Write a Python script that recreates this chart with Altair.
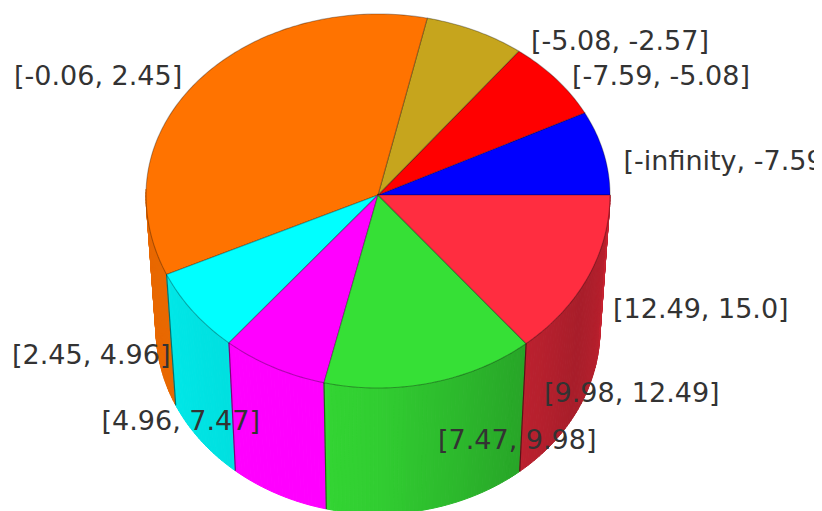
import altair as alt
import numpy as np
import pandas as pd

# ---- values ----
slice_counts = [1, 1, 1, 5, 1, 1, 2, 2]
slice_colors = ["#0000ff", "#ff0000", "#c6a51d", "#ff7300", "#00ffff", "#ff00ff", "#36e036", "#ff2d40"]
label_texts = ["[-infinity, -7.59]", "[-7.59, -5.08]", "[-5.08, -2.57]", "[-0.06, 2.45]",
               "[2.45, 4.96]", "[4.96, 7.47]", "[7.47, 9.98]", "[9.98, 12.49]", "[12.49, 15.0]"]

# ---- layout of the drawing (page pixels) ----
label_x = [623.5, 572, 531, 14, 12, 101.5, 438, 544, 613]
label_y = [161.5, 76.5, 41.5, 76.5, 355.5, 421.5, 440.5, 393.5, 309.5]
OFF = 8
TOP = dict(cx=378, cy=195, rx=232, ry_up=181, ry_down=193)
BOT = dict(cx=378, cy=329, rx=222, ry=185)
shade_a = [180, 205, 231, 232, 257, 258, 270, 308, 330, 350, 360]
shade_v = [0.91, 0.91, 0.88, 1.0, 1.0, 0.95, 0.92, 0.74, 0.66, 0.72, 0.78]
# perspective skew of the slice borders, in degrees
skew_a = [0, 25.7, 51.4, 77.1, 205.7, 231.4, 257.1, 308.6, 360]
skew_v = [0, 1.3, 1.2, 0.6, -1.4, -1.4, -0.6, 1.1, 0]


def warp(a):
    return a + float(np.interp(a, skew_a, skew_v))


def top(a):
    r = np.radians(warp(a))
    s = np.sin(r)
    return [TOP["cx"] + TOP["rx"] * np.cos(r) - OFF,
            TOP["cy"] - (TOP["ry_up"] if s > 0 else TOP["ry_down"]) * s - OFF]


def bot(a):
    r = np.radians(warp(a))
    return [BOT["cx"] + BOT["rx"] * np.cos(r) - OFF,
            BOT["cy"] - BOT["ry"] * np.sin(r) - OFF]


def shaded(color, v):
    rgb = [int(color[i:i + 2], 16) for i in (1, 3, 5)]
    return "#%02x%02x%02x" % tuple(int(c * v) for c in rgb)


def feature(kind, coords, fill):
    return {"type": "Feature",
            "geometry": {"type": kind, "coordinates": coords},
            "properties": {"fill": fill}}


edges = np.concatenate([[0], np.cumsum(slice_counts) / sum(slice_counts) * 360])
walls, wall_edges, tops = [], [], []
for start, end, col in zip(edges[:-1], edges[1:], slice_colors):
    ang = np.arange(start, end + 0.01, 1.0)
    if ang[-1] != end:
        ang = np.append(ang, end)
    ring = [[TOP["cx"] - OFF, TOP["cy"] - OFF]] + [top(a) for a in ang]
    ring.append(ring[0])
    tops.append(feature("Polygon", [ring], col))
    for a0, a1 in zip(ang[:-1], ang[1:]):
        if a1 <= 180:
            continue
        v = float(np.interp((a0 + a1) / 2, shade_a, shade_v))
        f = shaded(col, v)
        poly = [top(a0), top(a1), bot(a1), bot(a0), top(a0)]
        walls.append(feature("Polygon", [poly], f))
    if 180 < end < 360:
        wall_edges.append(feature("LineString", [top(end), bot(end)], "#000"))

P = {"type": "identity", "scale": 1, "translate": [0, 0]}

wall_layer = alt.Chart(alt.Data(values=walls)).mark_geoshape(strokeWidth=1).encode(
    fill=alt.Fill("properties.fill:N", scale=None),
    stroke=alt.Stroke("properties.fill:N", scale=None),
).project(**P)

edge_layer = alt.Chart(alt.Data(values=wall_edges)).mark_geoshape(
    filled=False, stroke="#000000", strokeOpacity=0.5, strokeWidth=1.2
).project(**P)

top_layer = alt.Chart(alt.Data(values=tops)).mark_geoshape(
    stroke="#000000", strokeOpacity=0.3, strokeWidth=1.1
).encode(fill=alt.Fill("properties.fill:N", scale=None)).project(**P)

label_df = pd.DataFrame({"t": label_texts,
                         "lon": np.array(label_x) - OFF,
                         "lat": np.array(label_y) - OFF})
text_layer = alt.Chart(label_df).mark_text(
    align="left", baseline="middle", font="DejaVu Sans", fontSize=27, color="#333333", clip=True
).encode(longitude="lon:Q", latitude="lat:Q", text="t:N").project(**P)

chart = alt.layer(wall_layer, edge_layer, top_layer, text_layer).properties(
    width=806, height=503, padding=0
).configure_view(stroke=None)

chart.save("out.html", embed_options={"renderer": "svg", "actions": False})
